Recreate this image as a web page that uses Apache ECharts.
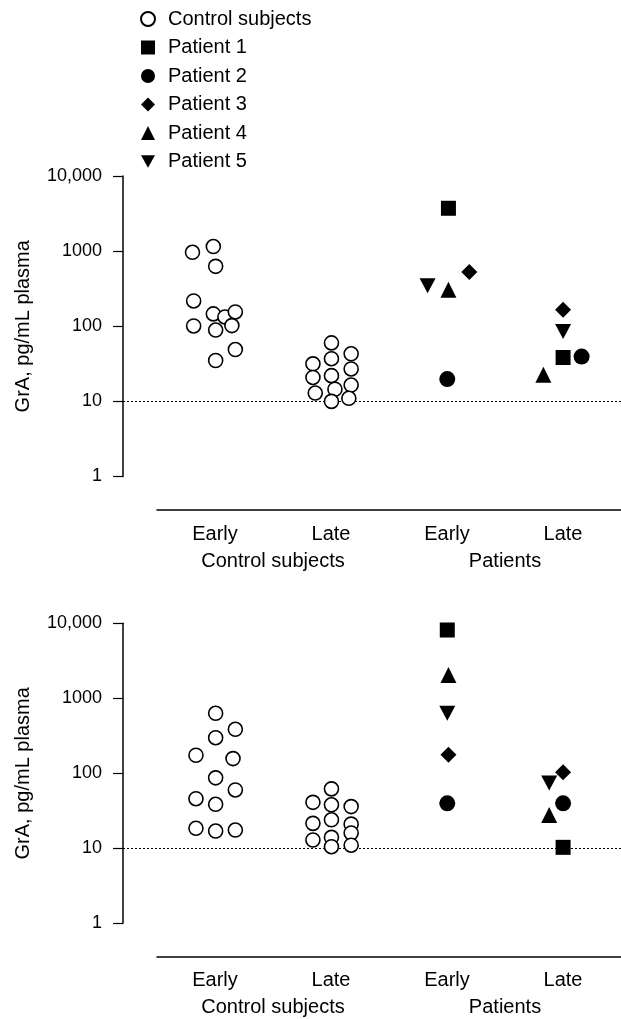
<!DOCTYPE html>
<html>
<head>
<meta charset="utf-8">
<script src="https://cdn.jsdelivr.net/npm/echarts@6/dist/echarts.min.js"></script>
<style>
  html, body { margin: 0; background: #fff; }
  #chart { width: 621px; height: 1019px; }
</style>
</head>
<body>
<div id="chart"></div>
<script>
// categories and labels
const groups = ["Early", "Late", "Early", "Late"];
const cohorts = ["Control subjects", "Patients"];
const yTickLabels = { 1: "1", 10: "10", 100: "100", 1000: "1000", 10000: "10,000" };
const yName = "GrA, pg/mL plasma";
const seriesNames = ["Control subjects", "Patient 1", "Patient 2", "Patient 3", "Patient 4", "Patient 5"];
const cutoff = 10;

// top panel, points are [x in group units, value]
const topControl = [
  [-0.2, 964], [-0.02, 1150], [0.0, 627], [-0.19, 217], [-0.02, 146], [0.08, 133],
  [0.17, 155], [-0.19, 101], [0.0, 89], [0.14, 102], [0.17, 49], [0.0, 35],
  [1.0, 60], [0.84, 31.6], [1.0, 37], [1.17, 43], [0.84, 20.8], [1.0, 22],
  [1.17, 27], [0.86, 12.9], [1.03, 14.5], [1.17, 16.5], [1.0, 10], [1.15, 11]
];
const topP1 = [[2.01, 3720], [3.0, 38.4]];
const topP2 = [[2.0, 19.8], [3.16, 39.5]];
const topP3 = [[2.19, 528], [3.0, 166]];
const topP4 = [[2.01, 307], [2.83, 22.6]];
const topP5 = [[1.83, 347], [3.0, 85]];

// bottom panel
const botControl = [
  [0.0, 631], [0.17, 386], [0.0, 298], [-0.17, 174], [0.15, 157], [0.0, 87],
  [0.17, 60], [-0.17, 45.8], [0.0, 38.6], [-0.17, 18.5], [0.0, 17], [0.17, 17.5],
  [1.0, 62], [0.84, 41], [1.0, 38], [1.17, 36], [0.84, 21.5], [1.0, 24],
  [1.17, 21], [0.84, 12.9], [1.0, 14], [1.17, 16], [1.0, 10.5], [1.17, 11]
];
const botP1 = [[2.0, 8140], [3.0, 10.3]];
const botP2 = [[2.0, 39.8], [3.0, 39.8]];
const botP3 = [[2.01, 177], [3.0, 103]];
const botP4 = [[2.01, 2045], [2.88, 27.8]];
const botP5 = [[2.0, 631], [2.88, 74]];

const panels = [
  { top: 176, height: 300.5, axisGap: 33.5, sets: [topControl, topP1, topP2, topP3, topP4, topP5] },
  { top: 623.3, height: 300, axisGap: 33.4, sets: [botControl, botP1, botP2, botP3, botP4, botP5] }
];

const font = '"Liberation Sans", Arial, Helvetica, sans-serif';
const symbols = [
  { symbol: "circle", size: 14 },
  { symbol: "rect", size: 15 },
  { symbol: "circle", size: 16 },
  { symbol: "diamond", size: 16 },
  { symbol: "triangle", size: 16 },
  { symbol: "path://M0,0L10,0L5,9Z", size: [16, 15] }
];

const myChart = echarts.init(document.getElementById("chart"));

let grid = [], xAxis = [], yAxis = [], series = [];
panels.forEach((p, i) => {
  const g = i * 3;
  // 数据网格（从y轴开始），x轴网格，分组标签网格
  grid.push({ left: 123, right: -5, top: p.top, height: p.height });
  grid.push({ left: 157, right: -5, top: p.top, height: p.height });
  grid.push({ left: 157, right: -5, top: p.top, height: p.height });

  xAxis.push({ gridIndex: g, type: "value", min: -0.8, max: 3.5, show: false });
  xAxis.push({
    gridIndex: g + 1, type: "category", data: groups, position: "bottom", offset: p.axisGap,
    axisLine: { onZero: false, lineStyle: { color: "#000", width: 1.5 } },
    axisTick: { alignWithLabel: true, length: 9, lineStyle: { color: "#000", width: 1.2 } },
    axisLabel: { color: "#000", fontSize: 20, fontFamily: font, margin: 14 }
  });
  xAxis.push({
    gridIndex: g + 2, type: "category", data: cohorts, position: "bottom", offset: p.axisGap,
    axisLine: { show: false, onZero: false }, axisTick: { show: false },
    axisLabel: { color: "#000", fontSize: 20, fontFamily: font, margin: 41 }
  });

  yAxis.push({
    gridIndex: g, type: "log", logBase: 10, min: 1, max: 10000,
    name: yName, nameLocation: "middle", nameGap: 90, nameRotate: 90,
    nameTextStyle: { color: "#000", fontSize: 20, fontFamily: font },
    axisLine: { show: true, onZero: false, lineStyle: { color: "#000", width: 1.5 } },
    axisTick: { show: true, length: 10, lineStyle: { color: "#000", width: 1.2 } },
    axisLabel: { color: "#000", fontSize: 18, fontFamily: font, margin: 21,
      formatter: v => yTickLabels[Math.round(v)] || "" },
    splitLine: { show: false }
  });
  yAxis.push({ gridIndex: g + 1, type: "value", show: false });
  yAxis.push({ gridIndex: g + 2, type: "value", show: false });

  p.sets.forEach((data, k) => {
    const s = {
      name: seriesNames[k], type: "scatter", xAxisIndex: g, yAxisIndex: i * 3,
      data: data, symbol: symbols[k].symbol, symbolSize: symbols[k].size,
      itemStyle: k === 0
        ? { color: "#fff", borderColor: "#000", borderWidth: 1.6, opacity: 1 }
        : { color: "#000", opacity: 1 },
      z: 3
    };
    if (k === 0) {
      s.markLine = {
        silent: true, symbol: "none", label: { show: false },
        lineStyle: { color: "#000", type: [2, 2], width: 1 },
        data: [{ yAxis: cutoff }], z: 1
      };
    }
    series.push(s);
  });
});

const option = {
  animation: false,
  backgroundColor: "#fff",
  legend: {
    orient: "vertical", left: 135, top: 4,
    itemWidth: 14, itemHeight: 14, itemGap: 8.5,
    textStyle: { color: "#000", fontSize: 20, fontFamily: font, lineHeight: 20, padding: [0, 0, 0, 8] },
    data: seriesNames
  },
  grid: grid,
  xAxis: xAxis,
  yAxis: yAxis,
  series: series
};

myChart.setOption(option);
window.addEventListener("resize", function () {
  myChart.resize();
});
</script>
</body>
</html>
